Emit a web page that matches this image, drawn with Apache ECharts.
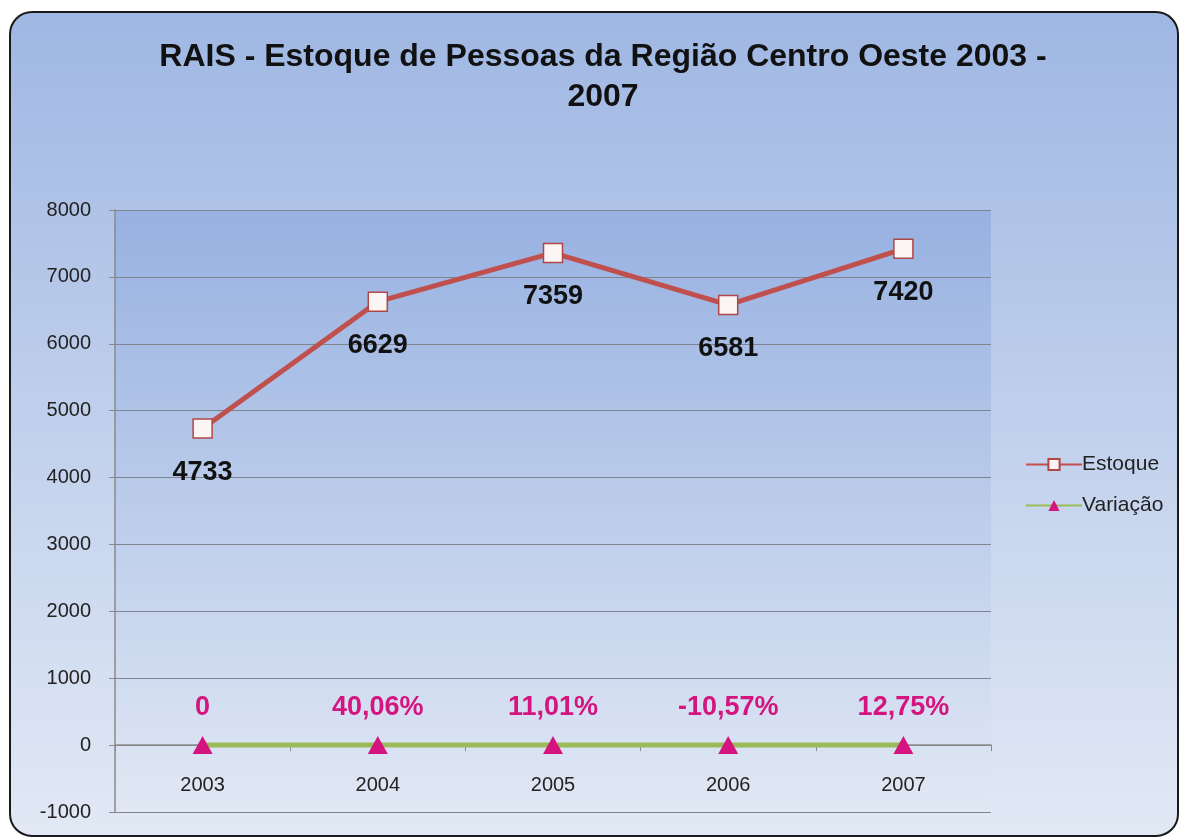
<!DOCTYPE html>
<html>
<head>
<meta charset="utf-8">
<script src="https://cdn.jsdelivr.net/npm/echarts@6/dist/echarts.min.js"></script>
<style>
  html, body { margin: 0; padding: 0; background: #ffffff; }
  #chart { width: 1181px; height: 838px; }
</style>
</head>
<body>
<div id="chart"></div>
<script>
// anos
const years = ['2003', '2004', '2005', '2006', '2007']
// estoque de pessoas
const estoque = [4733, 6629, 7359, 6581, 7420]
// variacao anual (fracao)
const variacao = [0, 0.4006, 0.1101, -0.1057, 0.1275]

const yMin = -1000
const yMax = 8000
const yStep = 1000

let myChart = echarts.init(document.getElementById('chart'))

function pct (v) {
  if (v === 0) return '0'
  return (v * 100).toFixed(2).replace('.', ',') + '%'
}

const font = 'Liberation Sans, Arial, sans-serif'

let option = {
  animation: false,
  textStyle: { fontFamily: font },
  graphic: [{
    type: 'rect',
    z: -10,
    shape: { x: 10, y: 12, width: 1168, height: 824, r: 22 },
    style: {
      fill: new echarts.graphic.LinearGradient(0, 0, 0, 1, [
        { offset: 0, color: '#9fb7e3' },
        { offset: 1, color: '#e2e9f5' }
      ]),
      stroke: '#1a1a1a',
      lineWidth: 2
    }
  }],
  title: {
    text: 'RAIS - Estoque de Pessoas da Região Centro Oeste 2003 -\n2007',
    left: 598,
    textAlign: 'center',
    top: 32,
    textStyle: {
      fontFamily: font,
      fontSize: 32,
      fontWeight: 'bold',
      color: '#111',
      lineHeight: 40
    }
  },
  legend: {
    orient: 'vertical',
    left: 1020,
    top: 449,
    itemWidth: 56,
    itemHeight: 14,
    itemGap: 20,
    textStyle: { fontFamily: font, fontSize: 21, color: '#222', padding: [0, 0, 0, -5] },
    data: ['Estoque', 'Variação']
  },
  grid: {
    left: 115,
    right: 190,
    top: 210,
    bottom: 26,
    outerBoundsMode: 'none',
    containLabel: false,
    show: true,
    borderWidth: 0,
    backgroundColor: new echarts.graphic.LinearGradient(0, 0, 0, 1, [
      { offset: 0, color: '#97b1e1' },
      { offset: 1, color: '#e1e8f4' }
    ])
  },
  xAxis: {
    type: 'category',
    data: years,
    boundaryGap: true,
    axisLine: { onZero: true, lineStyle: { color: '#8a8a8a', width: 1.5 } },
    axisTick: { show: true, length: 6, inside: false, lineStyle: { color: '#8a8a8a' } },
    axisLabel: { fontFamily: font, fontSize: 20, color: '#222', inside: true, margin: 17 },
    splitLine: { show: false }
  },
  yAxis: {
    type: 'value',
    min: yMin,
    max: yMax,
    interval: yStep,
    axisLine: { show: true, lineStyle: { color: '#8a8a8a', width: 1.5 } },
    axisTick: { show: true, length: 6, lineStyle: { color: '#8a8a8a' } },
    axisLabel: {
      fontFamily: font,
      fontSize: 20,
      color: '#222',
      margin: 24,
      formatter: function (v) { return String(v) }
    },
    splitLine: { show: true, lineStyle: { color: '#7f8590', width: 1.2 } }
  },
  series: [
    {
      name: 'Estoque',
      type: 'line',
      data: estoque,
      symbol: 'rect',
      symbolSize: 19,
      z: 3,
      lineStyle: { color: '#c0504d', width: 5 },
      itemStyle: { color: '#fbf5f5', borderColor: '#b04745', borderWidth: 1.5 },
      label: {
        show: true,
        position: 'bottom',
        distance: 20,
        fontFamily: font,
        fontSize: 27,
        fontWeight: 'bold',
        color: '#111'
      }
    },
    {
      name: 'Variação',
      type: 'line',
      data: variacao,
      symbol: 'triangle',
      symbolSize: [20, 18],
      z: 4,
      lineStyle: { color: '#9bbb59', width: 5 },
      itemStyle: { color: '#d4147f', borderWidth: 0 },
      label: {
        show: true,
        position: 'top',
        distance: 15,
        fontFamily: font,
        fontSize: 27,
        fontWeight: 'bold',
        color: '#d4147f',
        formatter: function (p) { return pct(p.value) }
      }
    }
  ]
}

myChart.setOption(option)
</script>
</body>
</html>
